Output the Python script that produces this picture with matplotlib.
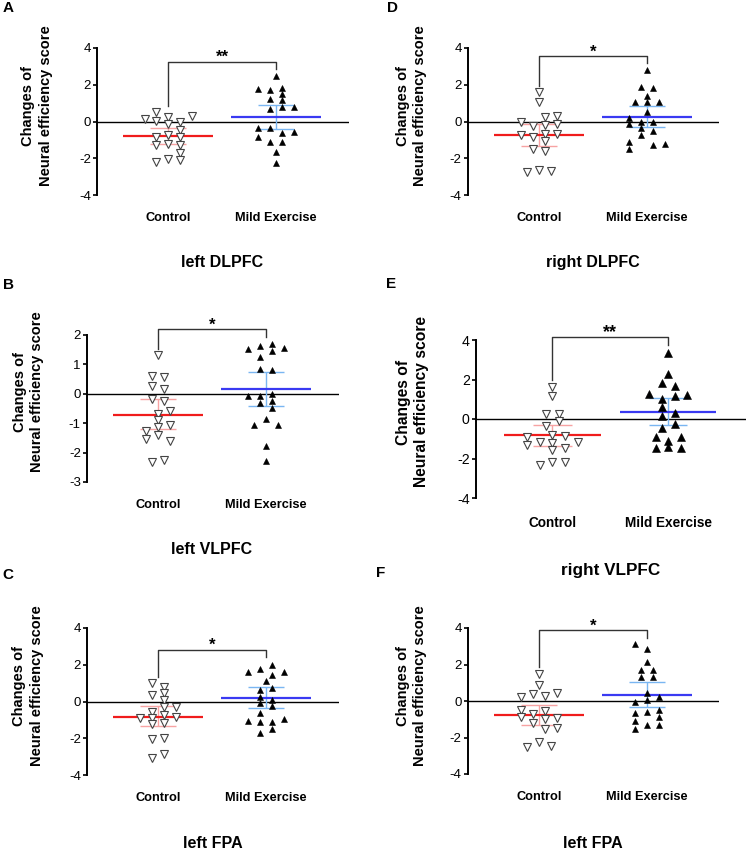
import numpy as np
import matplotlib
matplotlib.use('Agg')
import matplotlib.pyplot as plt

plt.rcParams['font.family'] = ['Liberation Sans', 'DejaVu Sans']

W, H = 746, 850

groups = ['Control', 'Mild Exercise']
ylabel = 'Changes of\nNeural efficiency score'

# --- data; *_col = horizontal slot of each point ---
# A: left DLPFC
a_ctrl = [0.15, 0.49, 0.05, 0.24, -0.15, -0.02, 0.29, -0.44, -0.84, -0.73, -0.84,
          -1.29, -1.20, -1.29, -1.73, -2.09, -2.02, -2.18]
a_ctrl_col = [-4, -2, -2, 0, 0, 2, 4, 2, -2, 0, 2, -2, 0, 2, 2, 2, 0, -2]
a_ex = [2.49, 1.76, 1.69, 1.85, 1.49, 1.25, 1.15, 0.80, 0.80, 0.70, -0.36, -0.36,
        -0.64, -0.55, -0.82, -1.13, -1.09, -1.64, -2.24]
a_ex_col = [0, -3, -1, 1, 1, -1, 1, 1, 3, -1, -3, -1, 1, 3, -3, -1, 1, 0, 0]

# D: right DLPFC
d_ctrl = [1.58, 1.04, -0.02, -0.27, 0.24, 0.31, -0.18, -0.13, -0.71, -0.87, -0.69,
          -0.67, -1.04, -1.49, -1.58, -2.75, -2.64, -2.69]
d_ctrl_col = [0, 0, -3, -1, 1, 3, 1, 3, -3, -1, 1, 3, 1, -1, 1, -2, 0, 2]
d_ex = [2.78, 1.87, 1.85, 1.40, 1.05, 1.05, 1.05, 0.49, 0.18, -0.13, 0.0, -0.04,
        -0.36, -0.49, -0.76, -1.09, -1.47, -1.27, -1.24]
d_ex_col = [0, -1, 1, 0, -2, 0, 2, 0, -3, -3, -1, 1, -1, 1, -1, -3, -3, 1, 3]

# B: left VLPFC
b_ctrl = [1.31, 0.61, 0.57, 0.26, 0.15, -0.17, -0.25, -0.57, -0.69, -0.89, -1.14,
          -1.06, -1.26, -1.39, -1.54, -1.60, -2.32, -2.25]
b_ctrl_col = [0, -1, 1, -1, 1, -1, 1, 2, 0, 0, 0, 2, -2, 0, -2, 2, -1, 1]
b_ex = [1.52, 1.64, 1.70, 1.44, 1.55, 1.26, 0.86, 0.81, -0.07, -0.07, -0.01, -0.30,
        -0.26, -0.50, -1.06, -0.86, -1.06, -1.79, -2.29]
b_ex_col = [-3, -1, 1, 1, 3, -1, -1, 1, -3, -1, 1, -1, 1, 1, -2, 0, 2, 0, 0]

# E: right VLPFC
e_ctrl = [1.60, 1.16, 0.25, 0.25, -0.35, -0.12, -0.89, -0.83, -0.86, -1.30, -1.18,
          -1.23, -1.18, -1.57, -1.45, -2.31, -2.16, -2.19]
e_ctrl_col = [0, 0, -1, 1, -1, 1, -4, 0, 2, -4, -2, 0, 4, 0, 2, -2, 0, 2]
e_ex = [3.36, 2.28, 1.84, 1.67, 1.27, 1.20, 1.03, 1.16, 0.62, 0.15, 0.32, -0.47,
        -0.25, -0.89, -0.89, -1.10, -1.49, -1.43, -1.49]
e_ex_col = [0, 0, -1, 1, -3, 3, -1, 1, -1, -1, 1, -1, 1, -2, 2, 0, -2, 0, 2]

# C: left FPA
c_ctrl = [1.00, 0.78, 0.36, 0.45, 0.09, -0.31, -0.31, -0.55, -0.73, -0.91, -0.91,
          -0.87, -1.15, -1.22, -2.04, -2.00, -3.09, -2.87]
c_ctrl_col = [-1, 1, -1, 1, 1, 1, 3, -1, 1, -3, -1, 3, 1, -1, -1, 1, -1, 1]
c_ex = [2.00, 1.58, 1.78, 1.45, 1.58, 1.13, 0.73, 0.64, 0.27, 0.09, -0.09, -0.27,
        -0.64, -1.04, -1.09, -1.09, -0.95, -1.51, -1.69]
c_ex_col = [1, -3, -1, 1, 3, 0, 1, -1, -1, 1, -1, 1, -1, -3, -1, 1, 3, 1, -1]

# F: left FPA (right column)
f_ctrl = [1.47, 0.87, 0.20, 0.38, 0.29, 0.42, -0.47, -0.53, -0.71, -0.89, -0.98,
          -0.95, -1.20, -1.56, -1.47, -2.53, -2.25, -2.44]
f_ctrl_col = [0, 0, -3, -1, 1, 3, -3, 1, -1, -3, 1, 3, -1, 1, 3, -2, 0, 2]
f_ex = [3.11, 2.84, 2.11, 1.69, 1.69, 1.33, 1.33, 0.42, -0.07, 0.05, 0.20, -0.49,
        -0.67, -0.62, -1.11, -0.89, -1.53, -1.29, -1.29]
f_ex_col = [-2, 0, 0, -1, 1, -1, 1, 0, -2, 0, 2, 2, -2, 0, -2, 2, -2, 0, 2]

# mean, upper and lower error bar (control, exercise)
a_stats = [(-0.78, -0.36, -1.22), (0.27, 0.91, -0.40)]
d_stats = [(-0.73, -0.13, -1.33), (0.27, 0.85, -0.29)]
b_stats = [(-0.71, -0.19, -1.20), (0.16, 0.74, -0.43)]
e_stats = [(-0.83, -0.29, -1.37), (0.37, 1.05, -0.30)]
c_stats = [(-0.82, -0.27, -1.36), (0.18, 0.78, -0.36)]
f_stats = [(-0.76, -0.20, -1.33), (0.34, 1.05, -0.35)]

# significance bracket: top, left leg end, right leg end, label
a_sig = (3.24, 0.87, 2.86, '**')
d_sig = (3.55, 1.95, 3.18, '*')
b_sig = (2.19, 1.54, 1.92, '*')
e_sig = (4.13, 1.97, 3.75, '**')
c_sig = (2.82, 1.36, 2.42, '*')
f_sig = (3.87, 1.87, 3.45, '*')

# --- layout (pixels) ---
panels = [
    # letter, title, data, stats, sig, ylim, yticks, box(l,t,r,b), title xy, letter xy, ylabel xy, scale
    ('A', 'left DLPFC', (a_ctrl, a_ctrl_col, a_ex, a_ex_col), a_stats, a_sig, (-4, 4), [-4, -2, 0, 2, 4],
     (97, 48, 348.6, 195), (222, 263), (8, 8), (37, 106), 1.0),
    ('D', 'right DLPFC', (d_ctrl, d_ctrl_col, d_ex, d_ex_col), d_stats, d_sig, (-4, 4), [-4, -2, 0, 2, 4],
     (468, 48, 719, 195), (593, 263), (392, 8), (411.5, 106), 1.0),
    ('B', 'left VLPFC', (b_ctrl, b_ctrl_col, b_ex, b_ex_col), b_stats, b_sig, (-3, 2), [-3, -2, -1, 0, 1, 2],
     (87, 335, 338.6, 482), (212, 549), (8, 285), (28.5, 392), 1.0),
    ('E', 'right VLPFC', (e_ctrl, e_ctrl_col, e_ex, e_ex_col), e_stats, e_sig, (-4, 4), [-4, -2, 0, 2, 4],
     (476, 340, 746, 498), (611, 571), (391, 284), (412.5, 402), 1.07),
    ('C', 'left FPA', (c_ctrl, c_ctrl_col, c_ex, c_ex_col), c_stats, c_sig, (-4, 4), [-4, -2, 0, 2, 4],
     (87, 628, 338.6, 775), (213, 844), (8, 575), (28, 686), 1.0),
    ('F', 'left FPA', (f_ctrl, f_ctrl_col, f_ex, f_ex_col), f_stats, f_sig, (-4, 4), [-4, -2, 0, 2, 4],
     (468, 628, 719, 774), (593, 843), (381, 573), (411.5, 686), 1.0),
]

STEP = 0.055
RED, PINK = '#f01c1c', '#f7a3a3'
BLUE, LBLUE = '#3a3af2', '#7ab6f2'

fig = plt.figure(figsize=(W / 100, H / 100), dpi=100, facecolor='white')


def fx(x):
    return x / W


def fy(y):
    return 1 - y / H


for letter, title, data, stats, sig, ylim, yticks, box, title_xy, letter_xy, ylab_xy, sc in panels:
    l, t, r, b = box
    ax = fig.add_axes([fx(l), fy(b), (r - l) / W, (b - t) / H])
    ax.set_xlim(0.34, 2.67)
    ax.set_ylim(*ylim)

    ctrl, ctrl_col, ex, ex_col = data
    x_pos = [1, 2]

    ax.axhline(0, color='black', lw=1.0, zorder=1)

    # mean + error bars
    for g, (m, hi, lo), c_main, c_err in zip(x_pos, stats, [RED, BLUE], [PINK, LBLUE]):
        ax.vlines(g, lo, hi, color=c_err, lw=1.0, zorder=2)
        ax.hlines([lo, hi], g - 0.165, g + 0.165, color=c_err, lw=1.0, zorder=2)
        ax.hlines(m, g - 0.415, g + 0.415, color=c_main, lw=1.6, zorder=2)

    ax.plot(1 + np.array(ctrl_col) * STEP, ctrl, 'v', ms=5.2 * sc, mfc='white', mec='#444444',
            mew=0.8, ls='none', zorder=3)
    ax.plot(2 + np.array(ex_col) * STEP, ex, '^', ms=5 * sc, mfc='black', mec='black',
            mew=0.4, ls='none', zorder=3)

    # significance bracket
    top, lend, rend, lab = sig
    ax.plot([1, 1, 2, 2], [lend, top, top, rend], color='#333333', lw=1.0, clip_on=False, zorder=2)
    ax.text(1.5, top, lab, ha='center', va='baseline', fontsize=12 * sc, fontweight='bold')

    for s in ['top', 'right', 'bottom']:
        ax.spines[s].set_visible(False)
    ax.spines['left'].set_linewidth(1.4)
    ax.set_yticks(yticks)
    ax.set_yticklabels([str(v) for v in yticks])
    ax.tick_params(axis='y', length=3, width=1.2, labelsize=9.5 * sc, pad=1.5)
    ax.set_xticks(x_pos)
    ax.set_xticklabels(groups, fontsize=9.2 * sc, fontweight='bold')
    ax.tick_params(axis='x', length=0, pad=12 * sc)

    fig.text(fx(ylab_xy[0]), fy(ylab_xy[1]), ylabel, rotation=90, ha='center', va='center',
             fontsize=10.5 * sc, fontweight='bold', linespacing=1.3, multialignment='center')
    fig.text(fx(title_xy[0]), fy(title_xy[1]), title, ha='center', va='center',
             fontsize=11.5 * sc, fontweight='bold')
    fig.text(fx(letter_xy[0]), fy(letter_xy[1]), letter, ha='center', va='center',
             fontsize=11, fontweight='bold')

fig.savefig('out.png', dpi=100, facecolor='white')
